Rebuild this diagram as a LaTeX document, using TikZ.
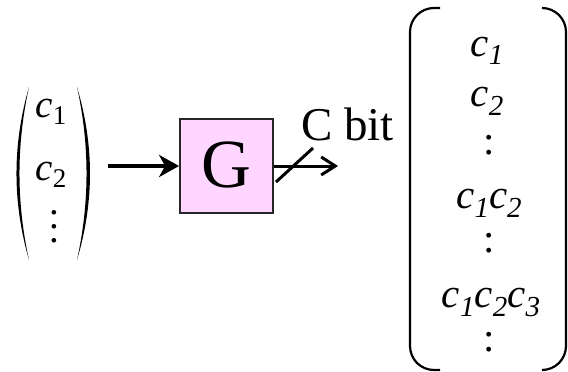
\documentclass[tikz,border=0pt]{standalone}
\usepackage{fontspec}
\setmainfont{Liberation Serif}
\usetikzlibrary{arrows.meta}
\definecolor{boxpink}{RGB}{255,214,255}
\newcommand{\ci}[1]{\textit{c}\raisebox{-9pt}{\fontsize{29}{29}\selectfont\textit{#1}}}
\newcommand{\cu}[1]{\textit{c}\raisebox{-7pt}{\fontsize{27}{27}\selectfont #1}}
\newcommand{\vdotsstack}{\vbox{\baselineskip=14pt\lineskiplimit=-20pt\hbox{.}\hbox{.}\hbox{.}}}
\begin{document}
\begin{tikzpicture}[x=1pt,y=-1pt,
  txt/.style={inner sep=0pt,anchor=base},
  rtxt/.style={txt,font=\fontsize{41}{41}\selectfont},
  ltxt/.style={txt,font=\fontsize{39}{39}\selectfont},
  conn/.style={line width=3.5pt},
  gbox/.style={draw=black!85,line width=1.8pt,fill=boxpink,minimum width=93pt,minimum height=94pt,inner sep=0pt,font=\fontsize{69}{69}\selectfont},
  brk/.style={line width=2.2pt,rounded corners=24pt}]
\useasboundingbox (0,0) rectangle (568,372);
% left vector
\node (lvec) [minimum width=76pt,minimum height=173pt,inner sep=0pt] at (52,173.5) {};
\fill (29,87) .. controls (12.3,145) and (12.3,202) .. (29,260)
      .. controls (16.3,202) and (16.3,145) .. (29,87) -- cycle;
\fill (77,87) .. controls (94.3,145) and (94.3,202) .. (77,260)
      .. controls (89.7,202) and (89.7,145) .. (77,87) -- cycle;
\node[ltxt] (lc1) at (51,117) {\cu{1}};
\node[ltxt] (lc2) at (51,180) {\cu{2}};
\node[ltxt] (ldots) at (54,242) {\vdotsstack};
% box
\node[gbox] (G) at (226.5,166) {\raisebox{2pt}{G}};
\draw[conn,-{Stealth[length=20pt,width=22pt,inset=6pt]},shorten <=18pt] (lvec.east |- G.west) -- (G.west);
% output
\coordinate (outend) at (338,166);
\draw[line width=3pt,-{Straight Barb[length=14pt,width=18pt,line width=3pt]}] (G.east) -- (outend);
\draw[line width=3pt] (276,182) -- (313,148);
\node[txt,anchor=base west,font=\fontsize{47}{47}\selectfont] (cbit) at (301,140) {C bit};
% right vector
\node (rvec) [minimum width=156pt,minimum height=362pt,inner sep=0pt] at (488,189) {};
\draw[brk] (440,8) -- (410,8) -- (410,370) -- (440,370);
\draw[brk] (542,8) -- (566,8) -- (566,370) -- (542,370);
\node[rtxt] (r1) at (487,56) {\ci{1}};
\node[rtxt] (r2) at (487,106) {\ci{2}};
\node[rtxt] (rd1) at (489,154) {:};
\node[rtxt] (r12) at (489,208) {\ci{1}\ci{2}};
\node[rtxt] (rd2) at (489,252) {:};
\node[rtxt] (r123) at (491,307) {\ci{1}\ci{2}\ci{3}};
\node[rtxt] (rd3) at (489,351) {:};
\end{tikzpicture}
\end{document}
